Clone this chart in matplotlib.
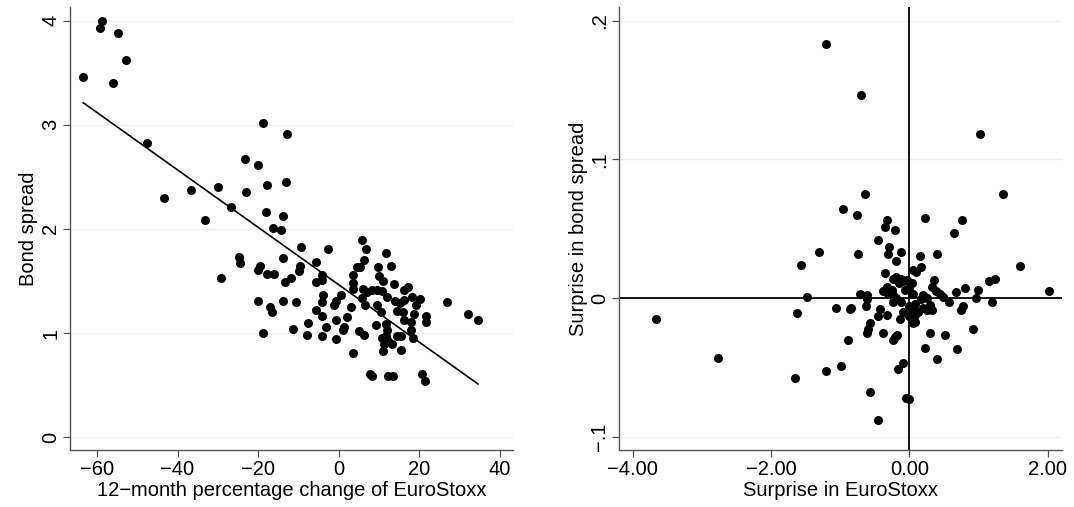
import matplotlib.pyplot as plt
import numpy as np

plt.rcParams['font.family'] = ['Liberation Sans', 'DejaVu Sans']

# left panel: 12-month change of EuroStoxx vs bond spread
stoxx_change = [
    -63.4, -59.2, -58.7, -54.9, -52.7, -56.1, -47.6, -43.3, -36.6, -33.3,
    -30.0, -26.7, -23.2, -22.9, -20.1, -18.7, -12.9, -17.7, -13.1, -18.1,
    -13.8, -16.2, -14.2, -9.4, -2.7, -13.9, -24.7, -24.5, -5.7, -9.6,
    -9.8, -19.5, -20.1, -17.7, -16.0, -11.8, -13.3, -29.2, -4.2, -4.2,
    -5.7, -4.0, 5.8, 6.8, 11.7, 12.9, 9.9, 6.3, 5.3, 4.5,
    3.6, 3.6, 3.6, 10.1, 11.1, 13.8, -13.9, -4.2, -0.7, 0.6,
    -1.2, 3.0, -5.6, -4.2, -0.7, 2.2, -3.2, -11.3, -7.9, -4.1,
    -0.7, 1.1, 1.3, 5.1, 6.3, 3.5, 6.1, 7.1, 8.4, 9.6,
    10.7, 11.9, 5.7, 6.5, 9.6, 10.5, 14.0, 15.2, 16.2, 17.3,
    16.2, 18.1, 20.3, 19.2, 14.5, 16.0, 18.7, 21.6, 21.6, 17.9,
    16.2, 9.4, 11.7, 11.9, 10.7, 11.7, 12.3, 11.2, 11.1, 13.2,
    14.4, 15.6, 15.6, 18.4, 17.9, 26.8, 32.2, 34.6, 7.9, 8.2,
    12.3, 13.5, 20.6, 21.4, -20.0, -18.7, -17.0, -16.5, -10.5, -7.5,
]
bond_spread = [
    3.46, 3.93, 4.00, 3.88, 3.62, 3.40, 2.82, 2.30, 2.37, 2.09,
    2.40, 2.21, 2.67, 2.35, 2.61, 3.02, 2.91, 2.42, 2.45, 2.16,
    2.12, 2.01, 1.99, 1.83, 1.81, 1.72, 1.73, 1.67, 1.68, 1.64,
    1.60, 1.64, 1.61, 1.57, 1.57, 1.53, 1.49, 1.53, 1.56, 1.51,
    1.49, 1.37, 1.89, 1.81, 1.77, 1.64, 1.63, 1.70, 1.63, 1.63,
    1.56, 1.48, 1.42, 1.55, 1.50, 1.47, 1.31, 1.30, 1.31, 1.37,
    1.27, 1.25, 1.22, 1.16, 1.13, 1.15, 1.06, 1.04, 0.98, 0.97,
    0.94, 1.03, 1.06, 1.02, 0.98, 0.81, 1.42, 1.39, 1.41, 1.41,
    1.40, 1.35, 1.34, 1.27, 1.27, 1.20, 1.31, 1.29, 1.32, 1.44,
    1.41, 1.35, 1.33, 1.27, 1.21, 1.20, 1.18, 1.16, 1.11, 1.11,
    1.13, 1.08, 1.09, 1.03, 0.95, 0.97, 0.92, 0.90, 0.83, 0.90,
    0.97, 0.97, 0.84, 0.95, 1.03, 1.30, 1.18, 1.13, 0.61, 0.59,
    0.59, 0.59, 0.61, 0.54, 1.31, 1.00, 1.25, 1.20, 1.30, 1.10,
]

# right panel: surprises
surprise_stoxx = [
    -1.20, -0.70, 1.02, 1.35, 0.22, 0.76, 0.64, 1.60, 2.01, -0.33,
    -0.36, -0.21, -0.29, -0.31, -0.13, -0.19, 0.15, 0.40, -0.36, 0.05,
    0.10, 0.16, 0.35, 0.32, 0.39, 0.49, 0.57, 0.67, 0.80, 0.99,
    0.96, 1.15, 1.24, 1.19, 0.77, 0.75, 0.92, 0.30, 0.52, 0.22,
    0.68, -0.38, -0.21, -0.24, 0.05, -0.33, -0.64, -0.96, -0.76, -0.46,
    -1.31, -0.75, -1.57, -1.48, -0.71, -0.61, -0.61, -0.63, -1.62, -1.06,
    -0.86, -0.84, -0.43, -0.45, -0.57, -0.60, -0.61, -0.18, -3.66, -2.77,
    -0.24, -0.19, -0.12, -0.09, -0.15, -0.04, 0.03, 0.00, -0.07, 0.05,
    -0.33, -0.38, -0.31, -0.26, -0.24, 0.44, 0.20, 0.25, 0.17, -0.12,
    -0.09, -0.01, 0.05, 0.08, 0.12, 0.20, 0.25, 0.29, 0.33, -0.24,
    -0.19, -0.14, 0.00, 0.08, 0.08, 0.40, -0.10, -0.16, -0.05, 0.00,
    -0.46, -0.57, -1.21, -1.65, -0.99, -0.89,
]
surprise_spread = [
    0.183, 0.146, 0.118, 0.075, 0.058, 0.056, 0.047, 0.023, 0.005, 0.056,
    0.051, 0.049, 0.037, 0.032, 0.033, 0.027, 0.030, 0.032, 0.018, 0.020,
    0.019, 0.022, 0.013, 0.008, 0.005, 0.001, -0.003, 0.004, 0.007, 0.006,
    0.000, 0.012, 0.014, -0.003, -0.006, -0.009, -0.022, -0.025, -0.027, -0.036,
    -0.037, -0.025, -0.028, -0.030, -0.018, -0.012, 0.075, 0.064, 0.060, 0.042,
    0.033, 0.032, 0.024, 0.001, 0.003, 0.002, -0.001, -0.006, -0.011, -0.007,
    -0.008, -0.007, -0.008, -0.013, -0.018, -0.022, -0.025, -0.027, -0.015, -0.043,
    0.014, 0.015, 0.014, 0.012, 0.011, 0.013, 0.011, 0.007, 0.006, 0.003,
    0.008, 0.005, 0.003, 0.006, 0.002, 0.003, 0.002, 0.000, -0.001, -0.003,
    -0.010, -0.006, -0.009, -0.004, -0.010, -0.007, -0.009, -0.005, -0.009, -0.003,
    0.000, -0.015, -0.013, -0.012, -0.017, -0.044, -0.047, -0.051, -0.072, -0.073,
    -0.088, -0.068, -0.053, -0.058, -0.049, -0.030,
]

grid_col = '#e9f0f3'
spine_col = '#555555'
fs = 14.5


def style_axes(ax):
    for side in ['top', 'right']:
        ax.spines[side].set_visible(False)
    for side in ['left', 'bottom']:
        ax.spines[side].set_color(spine_col)
        ax.spines[side].set_linewidth(1.0)
    ax.tick_params(direction='out', length=5, width=0.9, color=spine_col,
                   labelsize=fs, pad=2)
    ax.grid(axis='y', color=grid_col, lw=1.0)
    ax.set_axisbelow(True)
    for lab in ax.get_yticklabels():
        lab.set_rotation(90)
        lab.set_va('center')


fig = plt.figure(figsize=(10.74, 5.07), dpi=100)
ax1 = fig.add_axes([70 / 1074, 57 / 507, 443 / 1074, 443 / 507])
ax2 = fig.add_axes([619 / 1074, 57 / 507, 443 / 1074, 443 / 507])

x1 = np.array(stoxx_change)
y1 = np.array(bond_spread)
ax1.plot(x1, y1, 'o', color='black', ms=6.5, mew=0)
coef = np.polyfit(x1, y1, 1)
xl = np.array([x1.min(), x1.max()])
ax1.plot(xl, np.polyval(coef, xl), color='black', lw=1.2)
ax1.set_xlim(-66.7, 43.3)
ax1.set_ylim(-0.122, 4.13)
ax1.set_xticks([-60, -40, -20, 0, 20, 40])
ax1.set_yticks([0, 1, 2, 3, 4])
ax1.set_xlabel('12\u2212month percentage change of EuroStoxx', fontsize=fs, labelpad=2)
ax1.set_ylabel('Bond spread', fontsize=fs, labelpad=2)
style_axes(ax1)

ax2.plot(surprise_stoxx, surprise_spread, 'o', color='black', ms=6.5, mew=0)
ax2.axhline(0, color='black', lw=1.3)
ax2.axvline(0, color='black', lw=1.3)
ax2.set_xlim(-4.2, 2.205)
ax2.set_ylim(-0.1096, 0.2098)
ax2.set_xticks([-4, -2, 0, 2])
ax2.set_xticklabels(['\u22124.00', '\u22122.00', '0.00', '2.00'])
ax2.set_yticks([-0.1, 0, 0.1, 0.2])
ax2.set_yticklabels(['\u2212.1', '0', '.1', '.2'])
ax2.set_xlabel('Surprise in EuroStoxx', fontsize=fs, labelpad=2)
ax2.set_ylabel('Surprise in bond spread', fontsize=fs, labelpad=2)
style_axes(ax2)
ax2.grid(False)
for v in [-0.1, 0.1, 0.2]:
    ax2.axhline(v, color=grid_col, lw=1.0, zorder=0)

fig.savefig('out.png', dpi=100)
